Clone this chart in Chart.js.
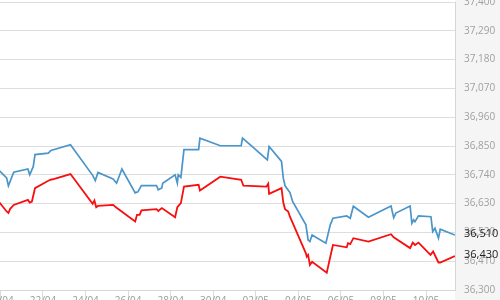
<!DOCTYPE html>
<html>
<head>
<meta charset="utf-8">
<script src="https://cdn.jsdelivr.net/npm/chart.js@4"></script>
<style>
    html, body { margin: 0; padding: 0; background: #fff; overflow: hidden; }
    #wrap { position: relative; width: 500px; height: 300px; }
</style>
</head>
<body>
<div id="wrap"><canvas id="chart"></canvas></div>
<script>
const blueTimes = [
    '19/04 23:00', '20/04 07:00', '20/04 09:00', '20/04 15:00', '21/04 07:00', '21/04 09:00', '21/04 13:00', '21/04 15:00',
    '22/04 06:00', '22/04 09:00', '23/04 07:00', '24/04 08:00', '24/04 11:00', '24/04 14:00', '25/04 07:00', '25/04 11:00',
    '25/04 17:00', '26/04 08:00', '26/04 11:00', '26/04 15:00', '27/04 08:00', '27/04 10:00', '27/04 14:00', '27/04 15:00',
    '28/04 05:00', '28/04 07:30', '28/04 08:30', '28/04 11:30', '28/04 15:00', '29/04 07:30', '29/04 09:00', '30/04 08:00',
    '01/05 07:30', '01/05 09:00', '01/05 17:30', '02/05 12:00', '02/05 13:00', '02/05 15:00', '03/05 05:00', '03/05 07:00',
    '03/05 09:00', '03/05 14:30', '03/05 17:30', '04/05 08:30', '04/05 11:00', '04/05 13:00', '04/05 15:30', '05/05 07:00',
    '05/05 12:00', '05/05 15:00', '06/05 06:30', '06/05 10:30', '06/05 14:00', '07/05 07:00', '08/05 08:30', '08/05 11:30',
    '08/05 14:00', '09/05 06:00', '09/05 08:00', '09/05 10:00', '09/05 11:30', '09/05 15:30', '10/05 05:30', '10/05 07:30',
    '10/05 10:00', '10/05 14:00', '10/05 16:00', '11/05 08:30'
];
const blueValues = [
    36755, 36728, 36698, 36750, 36762, 36740, 36771, 36817,
    36823, 36833, 36855, 36738, 36718, 36749, 36724, 36708,
    36762, 36671, 36675, 36699, 36699, 36683, 36690, 36708,
    36740, 36708, 36740, 36730, 36836, 36836, 36880, 36851,
    36851, 36880, 36855, 36800, 36797, 36848, 36791, 36727,
    36698, 36672, 36638, 36549, 36491, 36485, 36510, 36479,
    36549, 36574, 36583, 36574, 36620, 36578, 36621, 36576,
    36594, 36621, 36555, 36568, 36561, 36583, 36580, 36523,
    36536, 36498, 36532, 36510
];

const redTimes = [
    '19/04 23:00', '20/04 07:00', '20/04 09:00', '20/04 11:00', '20/04 15:00', '21/04 07:00', '21/04 09:00', '21/04 11:30',
    '21/04 15:00', '22/04 08:00', '22/04 11:00', '23/04 07:00', '24/04 08:00', '24/04 10:00', '24/04 12:00', '24/04 14:00',
    '25/04 07:00', '25/04 11:00', '26/04 08:00', '26/04 10:00', '26/04 13:00', '26/04 15:00', '27/04 08:00', '27/04 10:00',
    '27/04 14:00', '28/04 05:00', '28/04 07:30', '28/04 11:30', '28/04 15:00', '29/04 07:30', '29/04 09:00', '30/04 08:00',
    '01/05 07:30', '01/05 10:00', '02/05 12:00', '02/05 14:00', '02/05 15:00', '03/05 05:00', '03/05 07:00', '03/05 09:00',
    '03/05 12:30', '03/05 14:30', '04/05 08:30', '04/05 09:30', '04/05 11:00', '04/05 13:00', '04/05 15:30', '05/05 08:00',
    '05/05 12:00', '05/05 15:00', '06/05 06:30', '06/05 08:00', '06/05 10:30', '06/05 14:00', '07/05 07:00', '08/05 08:30',
    '08/05 11:30', '09/05 06:00', '09/05 09:00', '09/05 11:30', '09/05 15:30', '10/05 05:00', '10/05 08:00', '10/05 14:00',
    '10/05 16:00', '11/05 08:30'
];
const redValues = [
    36634, 36600, 36594, 36610, 36625, 36644, 36634, 36638,
    36689, 36721, 36723, 36743, 36629, 36642, 36616, 36621,
    36625, 36614, 36562, 36587, 36587, 36604, 36609, 36602,
    36613, 36578, 36616, 36632, 36695, 36702, 36680, 36733,
    36721, 36699, 36695, 36706, 36667, 36689, 36634, 36609,
    36600, 36580, 36440, 36427, 36434, 36396, 36408, 36366,
    36427, 36472, 36463, 36479, 36475, 36498, 36485, 36513,
    36501, 36460, 36481, 36472, 36481, 36434, 36447, 36405,
    36405, 36430
];

const xTickLabels = ['20/04', '22/04', '24/04', '26/04', '28/04', '30/04', '02/05', '04/05', '06/05', '08/05', '10/05'];

// days since 20/04 00:00
const toDays = (s) => {
    const [date, time = '00:00'] = s.split(' ');
    const [d, m] = date.split('/').map(Number);
    const [hh, mm] = time.split(':').map(Number);
    return (Date.UTC(2024, m - 1, d, hh, mm) - Date.UTC(2024, 3, 20)) / 86400000;
};

const toPoints = (times, values) => times.map((t, i) => ({ x: toDays(t), y: values[i] }));
const fmt = (v) => Math.round(v).toLocaleString('en-US');

const sideBackground = {
    id: 'sideBackground',
    beforeDraw(chart) {
        const { ctx, chartArea, width, height } = chart;
        ctx.save();
        ctx.fillStyle = '#f5f5f5';
        ctx.fillRect(chartArea.right, 0, width - chartArea.right, height);
        ctx.restore();
    }
};

const lastValueLabels = {
    id: 'lastValueLabels',
    afterDraw(chart) {
        const { ctx, chartArea, scales } = chart;
        ctx.save();
        ctx.font = '11px "Open Sans"';
        ctx.fillStyle = '#222';
        ctx.textBaseline = 'middle';
        ctx.textAlign = 'left';
        chart.data.datasets.forEach(ds => {
            const last = ds.data[ds.data.length - 1];
            ctx.fillText(fmt(last.y), chartArea.right + 9, scales.y.getPixelForValue(last.y) - 1);
        });
        ctx.restore();
    }
};

new Chart(document.getElementById('chart'), {
    type: 'line',
    data: {
        datasets: [
            {
                data: toPoints(blueTimes, blueValues),
                borderColor: '#4a95c9',
                borderWidth: 1.7,
                pointRadius: 0,
                tension: 0
            },
            {
                data: toPoints(redTimes, redValues),
                borderColor: '#f70f0f',
                borderWidth: 1.8,
                pointRadius: 0,
                tension: 0
            }
        ]
    },
    options: {
        responsive: true,
        maintainAspectRatio: false,
        animation: false,
        layout: { padding: { top: 2, left: 0, right: 0, bottom: 0 } },
        plugins: {
            legend: { display: false },
            tooltip: { enabled: false }
        },
        scales: {
            x: {
                type: 'linear',
                min: -0.02,
                max: 21.36,
                afterBuildTicks: (scale) => {
                    scale.ticks = xTickLabels.map(l => ({ value: toDays(l) }));
                },
                afterFit: (scale) => {
                    scale.height = 10;
                    scale.paddingLeft = 0;
                    scale.paddingRight = 0;
                },
                grid: { drawOnChartArea: false, drawTicks: true, tickLength: 10, color: '#dcdcdc' },
                border: { display: true, color: '#d6d6d6' },
                ticks: {
                    autoSkip: false,
                    maxRotation: 0,
                    padding: -5,
                    color: '#999',
                    font: { family: 'Open Sans', size: 10 },
                    callback: (v, i) => xTickLabels[i]
                }
            },
            y: {
                position: 'right',
                min: 36300,
                max: 37400,
                afterFit: (scale) => {
                    scale.width = 45;
                    scale.paddingTop = 0;
                    scale.paddingBottom = 0;
                },
                grid: { color: '#dedede', drawTicks: false },
                border: { display: true, color: '#d6d6d6' },
                ticks: {
                    stepSize: 110,
                    padding: 9,
                    color: '#a0a0a0',
                    font: { family: 'Open Sans', size: 10 },
                    callback: (v) => fmt(v)
                }
            }
        }
    },
    plugins: [sideBackground, lastValueLabels]
});
</script>
</body>
</html>
